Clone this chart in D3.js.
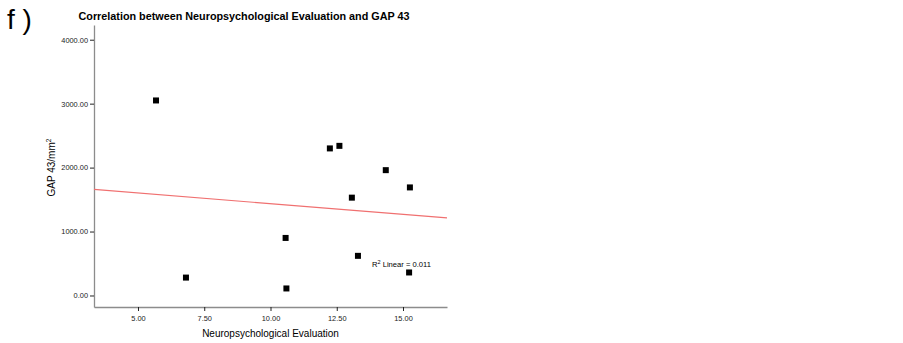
<!DOCTYPE html>
<html>
  <head>
    <meta charset="utf-8">
    <title>Neuropsychological Evaluation and GAP 43</title>
    <script src="https://cdn.jsdelivr.net/npm/d3@7/dist/d3.min.js"></script>
    <style>
      body { margin: 0; background: #fff; font-family: "Liberation Sans", Arial, sans-serif; }
      .axis path { stroke: #8c8c8c; stroke-width: 1.3; }
      .axis line { stroke: #222; }
      .axis text { font-size: 7.4px; fill: #222; font-family: "Liberation Sans", Arial, sans-serif; }
    </style>
  </head>
  <body>
    <svg id="chart" width="903" height="343"></svg>

    <script>
      // data
      evaluation = [5.68, 6.81, 10.57, 10.60, 12.24, 12.60, 13.07, 13.30, 14.35, 15.26, 15.23];
      gap43 = [3050, 280, 900, 110, 2300, 2340, 1530, 620, 1960, 1690, 360];
      xTicks = [5, 7.5, 10, 12.5, 15];
      yTicks = [0, 1000, 2000, 3000, 4000];
      rSquared = "0.011";

      chart = d3.select("#chart");

      margin = { top: 25, right: 456, bottom: 36, left: 94 };
      width = 903;
      height = 343;

      x = d3.scaleLinear()
        .domain([3.34, 16.66])
        .range([margin.left, width - margin.right]);
      y = d3.scaleLinear()
        .domain([-180, 4230])
        .range([height - margin.bottom, margin.top]);

      // panel letter + title
      chart.append("text")
        .attr("x", 7)
        .attr("y", 29)
        .style("font-size", "28px")
        .style("font-family", "'Liberation Sans', Arial, sans-serif")
        .text("f )");

      chart.append("text")
        .attr("x", 244)
        .attr("y", 20)
        .attr("text-anchor", "middle")
        .style("font-size", "10.8px")
        .style("font-weight", "bold")
        .text("Correlation between Neuropsychological Evaluation and GAP 43");

      // axes
      chart.append("g")
        .attr("class", "axis")
        .attr("transform", "translate(0," + (height - margin.bottom) + ")")
        .call(d3.axisBottom(x).tickValues(xTicks).tickFormat(d3.format(".2f")).tickSize(4).tickSizeOuter(0).tickPadding(5));

      chart.append("g")
        .attr("class", "axis")
        .attr("transform", "translate(" + margin.left + ",0)")
        .call(d3.axisLeft(y).tickValues(yTicks).tickFormat(d3.format(".2f")).tickSize(4).tickSizeOuter(0).tickPadding(2));

      chart.append("text")
        .attr("x", (margin.left + width - margin.right) / 2)
        .attr("y", 337)
        .attr("text-anchor", "middle")
        .style("font-size", "10px")
        .text("Neuropsychological Evaluation");

      yTitle = chart.append("text")
        .attr("transform", "translate(55," + y(2000) + ") rotate(-90)")
        .attr("text-anchor", "middle")
        .style("font-size", "10px");
      yTitle.append("tspan").text("GAP 43/mm");
      yTitle.append("tspan").attr("dy", -4).style("font-size", "6.5px").text("2");

      // linear fit
      mx = d3.mean(evaluation);
      my = d3.mean(gap43);
      sxy = d3.sum(evaluation, (d, i) => (d - mx) * (gap43[i] - my));
      sxx = d3.sum(evaluation, d => (d - mx) * (d - mx));
      slope = sxy / sxx;
      intercept = my - slope * mx;

      chart.append("line")
        .attr("x1", x(x.domain()[0]))
        .attr("x2", x(x.domain()[1]))
        .attr("y1", y(intercept + slope * x.domain()[0]))
        .attr("y2", y(intercept + slope * x.domain()[1]))
        .style("stroke", "#f07070")
        .style("stroke-width", 1.2);

      // points
      chart.selectAll(".pt")
        .data(evaluation)
        .enter().append("rect")
          .classed("pt", true)
          .attr("x", d => x(d) - 3)
          .attr("y", (d, i) => y(gap43[i]) - 3)
          .attr("width", 6)
          .attr("height", 6)
          .style("fill", "#000");

      r2 = chart.append("text")
        .attr("x", 372)
        .attr("y", 267)
        .style("font-size", "7.6px");
      r2.append("tspan").text("R");
      r2.append("tspan").attr("dy", -3).style("font-size", "5.5px").text("2");
      r2.append("tspan").attr("dy", 3).text(" Linear = " + rSquared);
    </script>
  </body>
</html>
